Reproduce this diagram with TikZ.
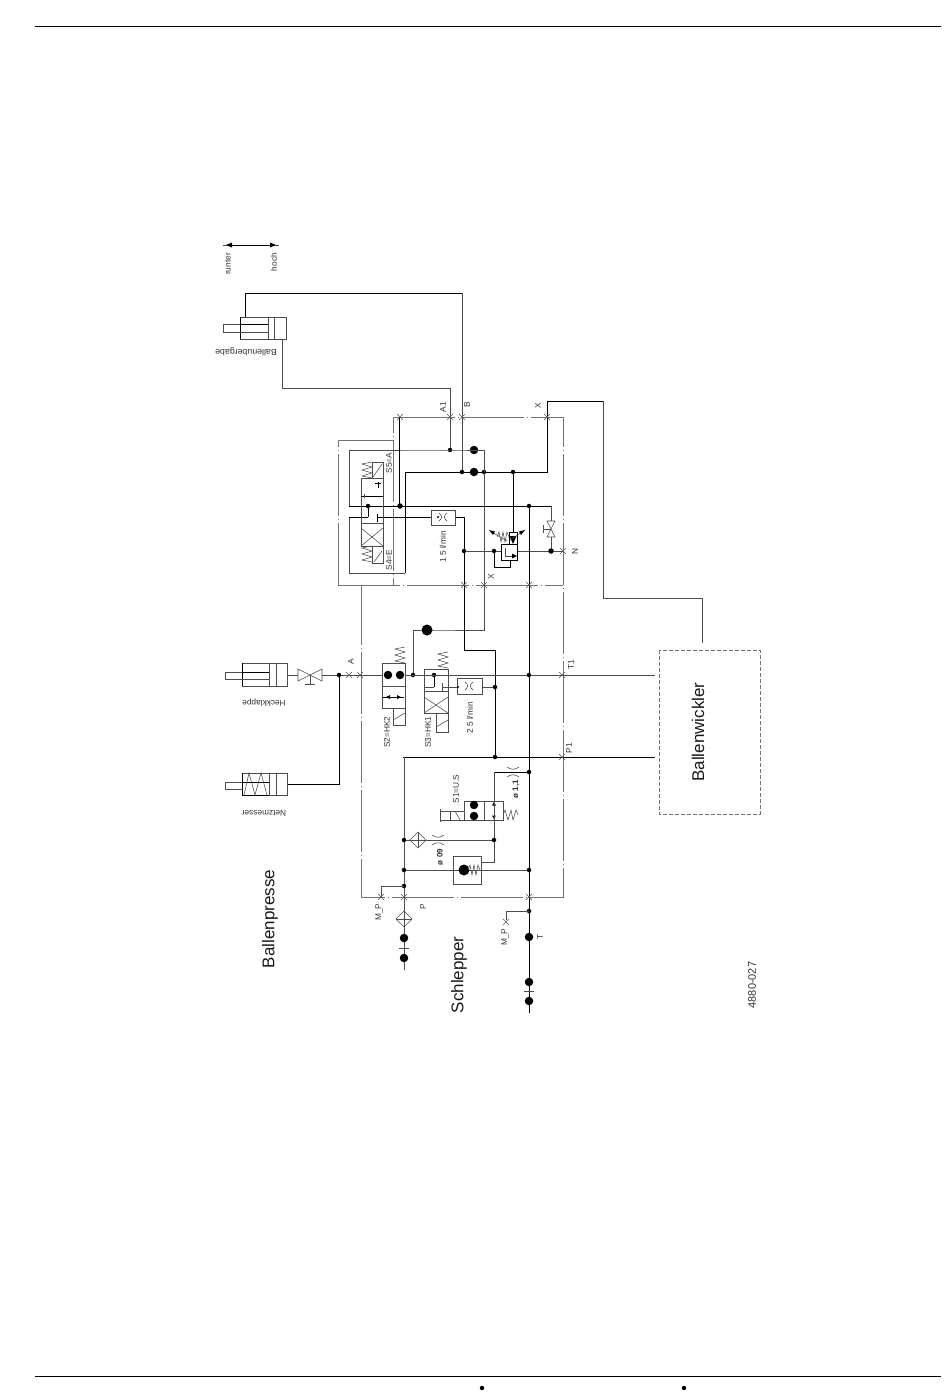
\documentclass[tikz,border=0pt]{standalone}
\usepackage{fontspec}
\setmainfont{Liberation Sans}
\usetikzlibrary{calc}
\tikzset{
  thn/.style={draw=black!70,line width=0.55pt},
  thk/.style={draw=black,line width=0.9pt},
  frame/.style={draw=black!55,line width=0.55pt,dash pattern=on 62pt off 3pt on 1pt off 3pt},
  dotn/.style={circle,fill=black,inner sep=0pt,minimum size=4.5pt},
  ballb/.style={circle,fill=black,inner sep=0pt,minimum size=8.5pt},
  ballc/.style={circle,fill=black,inner sep=0pt,minimum size=11pt},
  lbl/.style={font=\fontsize{8.3}{9}\selectfont,text=black!80,inner sep=0pt},
  lblr/.style={lbl,rotate=90},
  bigl/.style={font=\fontsize{17}{18}\selectfont,text=black!90,inner sep=0pt,rotate=90},
  pics/crs/.style={code={\draw[black!65,line width=0.5pt] (-3,-3)--(3,3) (-3,3)--(3,-3);}},
  pics/orfx/.style={code={\draw[black!80,line width=0.5pt] (-4,-4) .. controls (-0.5,-1) and (-0.5,1) .. (-4,4) (4,-4) .. controls (0.5,-1) and (0.5,1) .. (4,4);}},
  pics/orfy/.style={code={\draw[black!80,line width=0.5pt] (-6,-5) .. controls (-2,-2) and (2,-2) .. (6,-5) (-6,5) .. controls (-2,2) and (2,2) .. (6,5);}},
  pics/sprv/.style={code={\draw[black!70,line width=0.55pt] (11,0)--(1,2)--(11,5)--(1,8)--(11,11)--(1,14)--(11,16);}},
  pics/sprh/.style={code={\draw[black!70,line width=0.55pt] (0,0)--(2,-5)--(5,5)--(8,-5)--(10,5)--(13,-5)--(15,0);}},
  pics/sprs/.style={code={\draw[black!70,line width=0.55pt] (0,0)--(2,-5)--(4,5)--(6,-5)--(8,5)--(10,-5)--(12,0);}},
}
\begin{document}
\begin{tikzpicture}[x=1pt,y=-1pt]
\useasboundingbox (0,0) rectangle (950,1398);
\fill[white] (0,0) rectangle (950,1398);
% page rules
\coordinate (tl) at (35,26); \coordinate (tr) at (941,26);
\coordinate (bl) at (35,1376); \coordinate (br) at (941,1376);
\draw[black,line width=0.9pt] (tl)--(tr) (bl)--(br);
\node[dotn] (pd1) at (482,1388) {}; \node[dotn] (pd2) at (684,1388) {};
% direction arrow
\coordinate (ar) at (232,245); \coordinate (ah) at (270,245);
\draw[thk] (ar)--(ah);
\draw[thn] (223,245)--(232,245) (270,245)--(279,245);
\fill (226,245)--(232,242.5)--(232,247.5)--cycle;
\fill (276,245)--(270,242.5)--(270,247.5)--cycle;
\node[lbl,rotate=90] (t1) at (228,264) {runter};
\node[lbl,rotate=90] (t2) at (274,262) {hoch};
% cylinder Ballenubergabe
\draw[thn] (240,317) rectangle (286,339);
\draw[thn] (268,317)--(268,339) (274,317)--(274,339);
\draw[thk] (240,317)--(240,339);
\draw[thn] (240,332)--(223,332)--(223,324)--(240,324);
\draw[thk] (240,324)--(268,324); \draw[thn] (240,332)--(268,332);
\node[lbl,rotate=180,font=\fontsize{8.8}{9}\selectfont] (tb) at (246,352) {Ballenubergabe};
% frames
\draw[frame] (393,417)--(563,417)--(563,897)--(361,897)--(361,585);
\draw[frame] (338,585)--(563,585);
\draw[frame] (338,585)--(338,440)--(393,440)--(393,417);
\draw[frame] (393,440)--(393,585);
\draw[black!55,line width=0.55pt,dash pattern=on 4pt off 2pt] (659,650) rectangle (760,814);
% pipes
\draw[thk] (245,317)--(245,293)--(462,293);
\draw[thn] (462,293)--(462,472);
\draw[thn] (282,339)--(282,388)--(450,388)--(450,450);
\node[dotn] (n450) at (450,450) {};
\node[dotn] (n462) at (462,472) {};
\node[dotn] (n484) at (484,472) {};
\node[dotn] (n513) at (513,472) {};
\node[ballb] (b1) at (474,450) {};
\node[ballb] (b2) at (474,472) {};
\draw[thn] (349,506)--(349,450)--(450,450)--(484,450)--(484,630)--(427,630)--(413,630)--(413,675);
\node[ballc] (b3) at (427,630) {};
\node[dotn] (n413) at (413,675) {};
\draw[thn] (349,517)--(349,573)--(405,573);
\draw[thk] (405,573)--(405,472)--(547,472)--(547,401)--(603,401);
\draw[thn] (603,401)--(603,598)--(702,598)--(702,643);
\draw[thk] (349,506)--(551,506);
\draw[thn] (551,506)--(551,521) (551,537)--(551,551);
\draw[thk] (399,417)--(399,506);
\node[dotn,minimum size=5.5pt] (n400) at (400,506) {};
\node[dotn] (n369) at (368,506) {};
\node[dotn] (n529a) at (529,506) {};
\draw[thk] (368,506)--(368,517);
\draw[thk] (368,517)--(349,517);
\draw[thk] (378,517)--(464,517)--(464,650);
\draw[thk] (377,514)--(377,522);
\draw[thk] (464,650)--(495,650)--(495,757);
\draw[thn] (464,551)--(563,551);
\node[dotn] (n464) at (464,551) {};
\node[dotn] (n494) at (494,551) {};
\node[dotn,minimum size=5.5pt] (n551) at (551,551) {};
\draw[thk] (513,472)--(513,532);
\draw[thk] (529,506)--(529,1013);
\draw[thk] (494,551)--(494,567)--(510,567)--(510,560);
% orifice 1.5
\draw[thn,fill=white] (431,510) rectangle (455,525);
\pic at (443,517) {orfx};
\fill (438,517) circle (1.2pt);
\node[lblr] (t15) at (443,547) {1 5 l/min};
% relief valve
\draw[thk,fill=white] (501,544) rectangle (517,560);
\draw[thk,fill=white] (509,532) rectangle (517,544);
\fill (513,544)--(509.5,536)--(516.5,536)--cycle;
\draw[thn] (505,548)--(505,556)--(512,556);
\fill (517,556)--(512,553.5)--(512,558.5)--cycle;
\pic at (497,537) {sprs};
\draw[thn] (492,532)--(507,541) (522,532)--(510,540);
\fill (489,530)--(495,531.5)--(493,535)--cycle;
\fill (525,530)--(519,531.5)--(521,535)--cycle;
% hourglass valve
\draw[thn] (547,521)--(555,521)--(547,537)--(555,537)--cycle;
\draw[thn] (543,529)--(551,529) (543,525)--(543,533);
% 4/3 valve
\draw[thn] (361,478) rectangle (383,546);
\draw[thk] (361,496)--(383,496);
\draw[thn] (361,523)--(383,523);
\draw[thn] (372,462) rectangle (383,478);
\draw[thn] (372,546) rectangle (383,563);
\draw[thn] (361,528)--(383,546) (383,528)--(361,546);
\draw[thn] (373,477)--(382,464) (374,562)--(382,551);
\pic at (361,462) {sprv};
\pic at (361,546) {sprv};
\draw[thk] (378,482)--(378,488) (375,483)--(381,483);
\draw[thn] (364,494)--(364,498);
\node[lblr] (ts5) at (389,463) {S5=A};
\node[lblr] (ts4) at (389,560) {S4=E};
% valve S2
\draw[thn] (382,663) rectangle (405,708);
\draw[thn] (382,686)--(405,686);
\draw[thn] (393,708) rectangle (405,725);
\draw[thn] (393,720)--(405,713);
\node[ballb] (s2a) at (388,675) {};
\node[ballb] (s2b) at (400,675) {};
\draw[thk] (383,697)--(404,697);
\fill (386,697)--(390,695)--(390,699)--cycle;
\fill (401,697)--(397,695)--(397,699)--cycle;
\pic at (394,647) {sprv};
\node[lblr] (ts2) at (387,732) {S2=HK2};
% valve S3
\draw[thn] (424,669) rectangle (448,713);
\draw[thn] (424,691)--(448,691);
\draw[thn] (424,697)--(448,713) (448,697)--(424,713);
\draw[thn] (436,713) rectangle (448,732);
\draw[thn] (436,727)--(448,720);
\pic at (437,652) {sprv};
\draw[thk] (434,675)--(434,687);
\draw[thn] (434,687)--(424,687);
\node[dotn] (s3d) at (434,675) {};
\draw[thn] (442,683)--(442,691) (442,687)--(457,687) (482,687)--(495,687);
\draw[thn,fill=white] (457,678) rectangle (482,694);
\pic at (469,686) {orfx};
\fill (458,687) circle (1.2pt);
\node[dotn] (n495) at (495,687) {};
\node[lblr] (t25) at (470,718) {2 5 l/min};
\node[lblr] (ts3) at (428,732) {S3=HK1};
% main horizontals
\draw[thn] (322,675)--(382,675) (405,675)--(655,675);
\node[dotn] (n339) at (339,675) {};
\draw[thk] (339,675)--(339,784)--(287,784);
\draw[thk] (403,757)--(655,757);
\node[dotn] (n495b) at (495,757) {};
\draw[thn] (404,757)--(404,970);
\node[dotn] (n529b) at (529,675) {};
% cylinder Heckklappe
\draw[thn] (242,663) rectangle (287,686);
\draw[thn] (269,663)--(269,686) (276,663)--(276,686);
\draw[thk] (242,663)--(242,686);
\draw[thn] (242,679)--(225,679)--(225,672)--(242,672);
\draw[thk] (242,672)--(269,672); \draw[thn] (242,679)--(269,679);
\draw[thn] (287,675)--(298,675);
\draw[thn] (298,669)--(322,681)--(322,669)--(298,681)--cycle;
\draw[thn] (310,675)--(310,684) (305,684)--(315,684);
\node[lbl,rotate=180] (th) at (264,703) {Heckklappe};
% cylinder Netzmesser
\draw[thn] (242,773) rectangle (287,795);
\draw[thn] (269,773)--(269,795) (276,773)--(276,795);
\draw[thk] (242,773)--(242,795) (242,795)--(269,795);
\draw[thn] (242,789)--(225,789)--(225,782)--(242,782);
\draw[thk] (242,782)--(269,782);
\draw[thn] (244,795)--(249,773)--(255,795)--(261,773)--(267,795);
\node[lbl,rotate=180] (tn) at (264,813) {Netzmesser};
% S1
\draw[thn] (464,801) rectangle (503,820);
\draw[thn] (484,801)--(484,820);
\draw[thn] (440,811)--(464,811) (440,820)--(464,820) (450,811)--(450,820);
\draw[thn] (440,809)--(440,822);
\draw[thn] (455,811)--(460,820);
\node[ballb] (s1a) at (474,805) {};
\node[ballb] (s1b) at (474,816) {};
\pic at (503,815) {sprh};
\fill (494,802)--(492,805.5)--(496,805.5)--cycle;
\fill (494,819)--(492,815.5)--(496,815.5)--cycle;
\node[lblr] (ts1) at (456,789) {S1=U.S};
% y=772 line with orifice
\draw[thk] (494,772)--(529,772);
\draw[thn] (494,772)--(494,862)--(481,862);
\node[dotn] (n529c) at (529,772) {};
\pic at (513,772) {orfy};
\node[lblr,font=\fontsize{8}{9}\selectfont\bfseries] (t11) at (516,789) {ø 1,1};
% filter branch
\draw[thn] (404,840)--(494,840);
\node[dotn] (n404a) at (404,840) {};
\node[dotn] (n494b) at (494,840) {};
\draw[thn,fill=white] (418,832)--(426,840)--(418,848)--(410,840)--cycle;
\draw[thn] (418,832)--(418,848) (410,840)--(426,840);
\pic at (438,840) {orfy};
\node[lblr,font=\fontsize{8}{9}\selectfont\bfseries] (t09) at (440,857) {ø 09};
% check valve
\draw[thn,fill=white] (453,856) rectangle (481,884);
\draw[thn] (404,870)--(529,870);
\node[ballc] (chk) at (464,870) {};
\pic at (468,870) {sprs};
\node[dotn] (n404b) at (404,870) {};
\node[dotn] (n529d) at (529,870) {};
% P line
\node[dotn] (n404c) at (404,886) {};
\draw[thn] (404,886)--(381,886)--(381,897);
\draw[thn,fill=white] (404,911)--(412,919)--(404,927)--(396,919)--cycle;
\draw[thn] (404,911)--(404,927) (396,919)--(412,919);
\node[ballb] (p1) at (404,938) {};
\node[ballb] (p2) at (404,958) {};
\draw[thn] (399,948)--(409,948);
\node[lbl,rotate=90] (tmp1) at (379,912) {M\_P};
\node[lbl,rotate=90] (tp) at (423,907) {P};
% T line
\node[dotn] (n529e) at (529,911) {};
\draw[thn] (529,911)--(506,911)--(506,920);
\node[ballb] (t1b) at (529,937) {};
\node[ballb] (t2b) at (529,982) {};
\node[ballb] (t3b) at (529,1001) {};
\draw[thn] (524,991)--(534,991);
\node[lbl,rotate=90] (tmp2) at (505,937) {M\_P};
\node[lbl,rotate=90] (tt) at (540,937) {T};
% crosses
\foreach \p in {(400,417),(450,417),(462,417),(547,417),(464,585),(484,585),(529,585),(563,551),(349,675),(360,675),(562,675),(562,757),(381,897),(404,897),(529,897),(506,922)}
  \pic at \p {crs};
% labels
\node[lblr] (ta1) at (443,407) {A1};
\node[lblr] (tbb) at (467,405) {B};
\node[lblr] (tx1) at (538,406) {X};
\node[lblr] (tx2) at (491,577) {X};
\node[lblr] (tnn) at (575,551) {N};
\node[lblr] (ta) at (351,662) {A};
\node[lblr] (tt1) at (571,665) {T1};
\node[lblr] (tp1) at (569,748) {P1};
\node[bigl] (tpr) at (270,919) {Ballenpresse};
\node[bigl] (tsc) at (459,975) {Schlepper};
\node[bigl] (twk) at (698,732) {Ballenwickler};
\node[lblr,font=\fontsize{11}{12}\selectfont] (tnr) at (752,985) {4880-027};
\end{tikzpicture}
\end{document}
